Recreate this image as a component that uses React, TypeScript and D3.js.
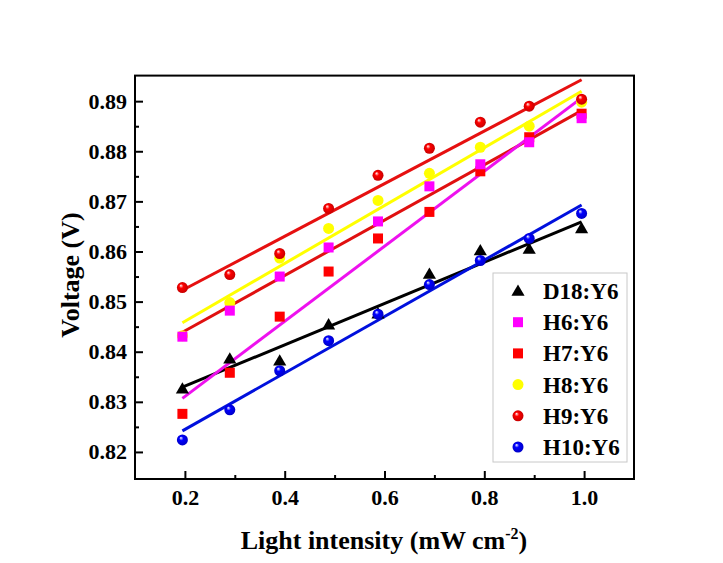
import React, { useEffect, useRef } from 'react';
import * as d3 from 'd3';

// light intensity (mW cm-2) shared by all devices
const intensity = [0.195, 0.29, 0.39, 0.488, 0.587, 0.69, 0.792, 0.89, 0.995];

const seriesNames = ['D18:Y6', 'H6:Y6', 'H7:Y6', 'H8:Y6', 'H9:Y6', 'H10:Y6'];

const d18 = [0.8326, 0.8386, 0.8382, 0.8454, 0.8476, 0.8555, 0.8602, 0.8605, 0.8646];
const h6 = [0.843, 0.8482, 0.855, 0.8608, 0.866, 0.873, 0.8774, 0.8818, 0.8866];
const h7 = [0.8276, 0.8358, 0.847, 0.856, 0.8626, 0.8679, 0.876, 0.8828, 0.8875];
const h8 = [0.8432, 0.8498, 0.8587, 0.8646, 0.8702, 0.8756, 0.8808, 0.885, 0.8898];
const h9 = [0.8528, 0.8554, 0.8596, 0.8686, 0.8752, 0.8806, 0.8858, 0.889, 0.8904];
const h10 = [0.8224, 0.8284, 0.8362, 0.8422, 0.8475, 0.8534, 0.8582, 0.8626, 0.8676];

const xTicks = [0.2, 0.4, 0.6, 0.8, 1.0];
const xMinor = [0.3, 0.5, 0.7, 0.9];
const yTicks = [0.82, 0.83, 0.84, 0.85, 0.86, 0.87, 0.88, 0.89];
const yMinor = [0.825, 0.835, 0.845, 0.855, 0.865, 0.875, 0.885];

// in the original figure the H6 and H7 fit lines carry each other's colour
const series = [
  { name: seriesNames[0], values: d18, color: '#000000', line: '#000000', shape: 'triangle' },
  { name: seriesNames[1], values: h6, color: '#ff00ff', line: '#e01010', shape: 'square' },
  { name: seriesNames[2], values: h7, color: '#ff0000', line: '#ee11ee', shape: 'square' },
  { name: seriesNames[3], values: h8, color: '#ffff00', line: '#ffff00', shape: 'flat' },
  { name: seriesNames[4], values: h9, color: '#ff0000', line: '#e61010', shape: 'ball' },
  { name: seriesNames[5], values: h10, color: '#0000ff', line: '#0010dd', shape: 'ball' },
];
const pointOrder = [3, 0, 2, 1, 4, 5];

const W = 723;
const H = 563;
const FONT = 'Liberation Serif, Tinos, Times New Roman, DejaVu Serif, serif';

// least-squares fit
function fit(xs: number[], ys: number[]) {
  const mx = d3.mean(xs) as number;
  const my = d3.mean(ys) as number;
  let num = 0;
  let den = 0;
  xs.forEach((x, i) => {
    num += (x - mx) * (ys[i] - my);
    den += (x - mx) * (x - mx);
  });
  const k = num / den;
  return (x: number) => my + k * (x - mx);
}

const App = () => {
  const ref = useRef<SVGSVGElement>(null);

  useEffect(() => {
    const svg = d3.select(ref.current);
    svg.selectAll('*').remove();

    const left = 135, right = 634, top = 75.6, bottom = 479;
    const x = d3.scaleLinear().domain([0.1, 1.1]).range([left, right]);
    const y = d3.scaleLinear().domain([0.8146, 0.8951]).range([bottom, top]);

    const defs = svg.append('defs');
    series.forEach((s, i) => {
      const g = defs.append('radialGradient').attr('id', 'ball' + i)
        .attr('cx', '50%').attr('cy', '50%').attr('r', '55%')
        .attr('fx', '35%').attr('fy', '30%');
      g.append('stop').attr('offset', '0%').attr('stop-color', '#ffffff');
      g.append('stop').attr('offset', '35%').attr('stop-color', s.color);
      g.append('stop').attr('offset', '100%').attr('stop-color', d3.color(s.color)!.darker(0.8).toString());
    });

    svg.append('rect').attr('width', W).attr('height', H).attr('fill', '#fff');

    // fit lines
    const xExt = d3.extent(intensity) as [number, number];
    series.forEach(s => {
      const f = fit(intensity, s.values);
      svg.append('line')
        .attr('x1', x(xExt[0])).attr('y1', y(f(xExt[0])))
        .attr('x2', x(xExt[1])).attr('y2', y(f(xExt[1])))
        .attr('stroke', s.line).attr('stroke-width', 3);
    });

    const drawMarker = (g: any, s: any, i: number, cx: number, cy: number) => {
      if (s.shape === 'triangle') {
        g.append('path')
          .attr('d', d3.symbol(d3.symbolTriangle, 75)())
          .attr('transform', `translate(${cx},${cy + 1})`)
          .attr('fill', s.color);
      } else if (s.shape === 'square') {
        g.append('rect').attr('x', cx - 5).attr('y', cy - 5).attr('width', 10).attr('height', 10)
          .attr('fill', s.color);
      } else if (s.shape === 'flat') {
        g.append('circle').attr('cx', cx).attr('cy', cy).attr('r', 5.5).attr('fill', s.color);
      } else {
        g.append('circle').attr('cx', cx).attr('cy', cy).attr('r', 5.5)
          .attr('fill', `url(#ball${i})`);
      }
    };

    // points
    pointOrder.forEach(i => {
      const s = series[i];
      const g = svg.append('g');
      s.values.forEach((v, j) => drawMarker(g, s, i, x(intensity[j]), y(v)));
    });

    // frame
    svg.append('rect').attr('x', left).attr('y', top)
      .attr('width', right - left).attr('height', bottom - top)
      .attr('fill', 'none').attr('stroke', '#000').attr('stroke-width', 2);

    const styleAxis = (g: any) => {
      g.select('.domain').remove();
      g.selectAll('line').attr('stroke', '#000').attr('stroke-width', 2);
      g.selectAll('text').attr('font-family', FONT).attr('font-weight', 'bold')
        .attr('font-size', 22).attr('fill', '#000');
    };

    svg.append('g').attr('transform', `translate(0,${bottom})`)
      .call(d3.axisBottom(x).tickValues(xTicks).tickFormat(d3.format('.1f'))
        .tickSizeInner(-8).tickSizeOuter(0).tickPadding(10))
      .call(styleAxis);
    svg.append('g').attr('transform', `translate(0,${bottom})`)
      .call(d3.axisBottom(x).tickValues(xMinor).tickFormat(() => '')
        .tickSizeInner(-4).tickSizeOuter(0))
      .call(styleAxis);
    svg.append('g').attr('transform', `translate(${left},0)`)
      .call(d3.axisLeft(y).tickValues(yTicks).tickFormat(d3.format('.2f'))
        .tickSizeInner(-8).tickSizeOuter(0).tickPadding(8))
      .call(styleAxis);
    svg.append('g').attr('transform', `translate(${left},0)`)
      .call(d3.axisLeft(y).tickValues(yMinor).tickFormat(() => '')
        .tickSizeInner(-4).tickSizeOuter(0))
      .call(styleAxis);

    // axis titles
    const xt = svg.append('text').attr('x', 384).attr('y', 549)
      .attr('text-anchor', 'middle').attr('font-family', FONT)
      .attr('font-weight', 'bold').attr('font-size', 26).attr('fill', '#000');
    xt.append('tspan').text('Light intensity (mW cm');
    xt.append('tspan').attr('font-size', 16).attr('dy', -10).text('-2');
    xt.append('tspan').attr('dy', 10).text(')');

    svg.append('text')
      .attr('transform', `translate(79,275) rotate(-90)`)
      .attr('text-anchor', 'middle').attr('font-family', FONT)
      .attr('font-weight', 'bold').attr('font-size', 26).attr('fill', '#000')
      .text('Voltage (V)');

    // legend
    const lg = svg.append('g');
    lg.append('rect').attr('x', 493).attr('y', 273).attr('width', 134).attr('height', 189)
      .attr('fill', '#fff').attr('stroke', '#c8c8c8').attr('stroke-width', 1);
    series.forEach((s, i) => {
      const cy = 291 + i * 31.2;
      drawMarker(lg, s, i, 518, cy);
      lg.append('text').attr('x', 543).attr('y', cy + 8)
        .attr('font-family', FONT).attr('font-weight', 'bold')
        .attr('font-size', 23).attr('fill', '#000').text(s.name);
    });
  }, []);

  return (
    <svg ref={ref} width={W} height={H}
      style={{ position: 'absolute', left: 0, top: 0, display: 'block' }} />
  );
};

export default App;
